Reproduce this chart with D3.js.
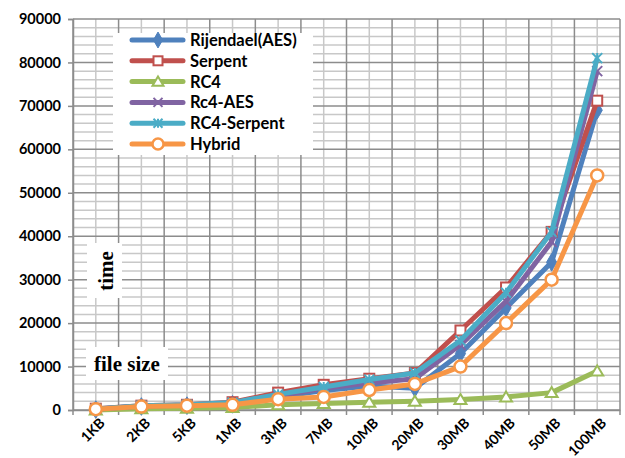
<!DOCTYPE html>
<html><head><meta charset="utf-8">
<script src="https://cdn.jsdelivr.net/npm/d3@7"></script>
<style>body{margin:0;background:#fff}svg{display:block}</style>
</head><body>
<svg id="c" width="625" height="458"></svg>
<script>
const categories = ["1KB","2KB","5KB","1MB","3MB","7MB","10MB","20MB","30MB","40MB","50MB","100MB"];
const aes        = [100, 800, 1000, 1300, 3000, 4500, 5500, 5000, 13000, 23500, 34000, 69000];
const serpent    = [300, 1000, 1200, 1800, 4000, 5800, 7200, 8500, 18300, 28200, 41000, 71200];
const rc4        = [0, 300, 400, 600, 1200, 1500, 1800, 2000, 2400, 3000, 4000, 9000];
const rc4aes     = [200, 900, 1100, 1500, 3200, 5000, 6200, 7200, 15000, 25000, 38700, 78000];
const rc4serpent = [250, 1000, 1200, 1700, 3600, 5300, 7000, 8500, 16000, 27000, 41000, 81000];
const hybrid     = [200, 800, 1000, 1200, 2500, 3000, 4600, 6000, 10000, 20000, 30000, 54000];
const seriesNames = ["Rijendael(AES)","Serpent","RC4","Rc4-AES","RC4-Serpent","Hybrid"];
const yTicks = [0,10000,20000,30000,40000,50000,60000,70000,80000,90000];

const series = [
  {name: seriesNames[0], values: aes, color: "#4F81BD", marker: "diamond"},
  {name: seriesNames[1], values: serpent, color: "#C0504D", marker: "square"},
  {name: seriesNames[2], values: rc4, color: "#9BBB59", marker: "triangle"},
  {name: seriesNames[3], values: rc4aes, color: "#8064A2", marker: "x"},
  {name: seriesNames[4], values: rc4serpent, color: "#4BACC6", marker: "star"},
  {name: seriesNames[5], values: hybrid, color: "#F79646", marker: "circle"}
];

const svg = d3.select("#c");
const L = 73, R = 620, T = 19, B = 410;
const x = d3.scaleBand().domain(categories).range([L, R]).padding(0);
const y = d3.scaleLinear().domain([0, 90000]).range([B, T]);
const font = "Lato, 'Open Sans', sans-serif";

// grid
const g = svg.append("g");
const minor = d3.range(0, 90001, 2000).filter(v => v % 10000 !== 0);
g.selectAll(".hm").data(minor).join("line")
  .attr("x1", L).attr("x2", R).attr("y1", d => y(d)).attr("y2", d => y(d))
  .attr("stroke", "#C8C8C8").attr("stroke-width", 1.5);
g.selectAll(".vm").data(categories).join("line")
  .attr("x1", d => x(d) + x.bandwidth()/2).attr("x2", d => x(d) + x.bandwidth()/2)
  .attr("y1", T).attr("y2", B).attr("stroke", "#C8C8C8").attr("stroke-width", 1.5);
g.selectAll(".hM").data(yTicks).join("line")
  .attr("x1", L).attr("x2", R).attr("y1", d => y(d)).attr("y2", d => y(d))
  .attr("stroke", "#8C8C8C").attr("stroke-width", 1.5);
const bounds = categories.map(c => x(c)).concat([R]);
g.selectAll(".vM").data(bounds).join("line")
  .attr("x1", d => d).attr("x2", d => d).attr("y1", T).attr("y2", B)
  .attr("stroke", "#8C8C8C").attr("stroke-width", 1.5);

// y axis
const yAxis = svg.append("g").attr("transform", `translate(${L},0)`)
  .call(d3.axisLeft(y).tickValues(yTicks).tickSize(5).tickPadding(7).tickFormat(d3.format("d")));
yAxis.select(".domain").attr("stroke", "#8C8C8C").attr("stroke-width", 1.5);
yAxis.selectAll(".tick line").attr("stroke", "#8C8C8C").attr("stroke-width", 1.5);
yAxis.selectAll("text").attr("font-family", font).attr("font-weight", "bold")
  .attr("font-size", 14.5).attr("fill", "#000");

// x axis
const xAxis = svg.append("g").attr("transform", `translate(0,${B})`)
  .call(d3.axisBottom(x).tickSize(0).tickFormat(d => d));
xAxis.select(".domain").attr("stroke", "#8C8C8C").attr("stroke-width", 1.5);
xAxis.selectAll(".tick text")
  .attr("font-family", font).attr("font-weight", "bold").attr("font-size", 14).attr("fill", "#000")
  .attr("text-anchor", "end").attr("dy", null).attr("y", 0)
  .attr("transform", "translate(10,14) rotate(-45)");
svg.append("g").selectAll("line").data(bounds).join("line")
  .attr("x1", d => d).attr("x2", d => d).attr("y1", B).attr("y2", B + 5)
  .attr("stroke", "#8C8C8C").attr("stroke-width", 1.5);

// markers
function drawMarker(sel, m, color, s) {
  if (m === "diamond") {
    sel.append("path").attr("d", d3.symbol(d3.symbolDiamond, s*s*0.9)()).attr("fill", color).attr("stroke", color);
  } else if (m === "square") {
    sel.append("rect").attr("x", -s/2).attr("y", -s/2).attr("width", s).attr("height", s)
      .attr("fill", "#fff").attr("stroke", color).attr("stroke-width", 2);
  } else if (m === "triangle") {
    const h = s*0.9;
    sel.append("path").attr("d", `M0,${-h/2-1}L${s/2+1},${h/2}L${-s/2-1},${h/2}Z`)
      .attr("fill", "#fff").attr("stroke", color).attr("stroke-width", 2);
  } else if (m === "x") {
    const r = s/2;
    sel.append("path").attr("d", `M${-r},${-r}L${r},${r}M${-r},${r}L${r},${-r}`)
      .attr("stroke", color).attr("stroke-width", 2);
  } else if (m === "star") {
    const r = s/2;
    sel.append("path").attr("d", `M${-r},${-r}L${r},${r}M${-r},${r}L${r},${-r}M0,${-r}L0,${r}`)
      .attr("stroke", color).attr("stroke-width", 2);
  } else if (m === "circle") {
    sel.append("circle").attr("r", s/2+1).attr("fill", "#fff").attr("stroke", color).attr("stroke-width", 2.5);
  }
}

const line = d3.line().x((d, i) => x(categories[i]) + x.bandwidth()/2).y(d => y(d));
series.forEach(s => {
  svg.append("path").datum(s.values).attr("d", line)
    .attr("fill", "none").attr("stroke", s.color).attr("stroke-width", 5).attr("stroke-linejoin", "round");
  s.values.forEach((v, i) => {
    const mg = svg.append("g").attr("transform", `translate(${x(categories[i]) + x.bandwidth()/2},${y(v)})`);
    drawMarker(mg, s.marker, s.color, 10);
  });
});

// legend
const lg = svg.append("g");
lg.append("rect").attr("x", 113).attr("y", 33).attr("width", 200).attr("height", 122).attr("fill", "#fff");
series.forEach((s, i) => {
  const yy = 40 + i * 20.8;
  lg.append("line").attr("x1", 132).attr("x2", 183).attr("y1", yy).attr("y2", yy)
    .attr("stroke", s.color).attr("stroke-width", 5).attr("stroke-linecap", "round");
  const mg = lg.append("g").attr("transform", `translate(158,${yy})`);
  drawMarker(mg, s.marker, s.color, 9);
  lg.append("text").attr("x", 190).attr("y", yy).attr("dy", "0.36em")
    .attr("font-family", font).attr("font-weight", "bold").attr("font-size", 16.5).attr("fill", "#000")
    .text(s.name);
});

// text boxes
svg.append("rect").attr("x", 87).attr("y", 243).attr("width", 35).attr("height", 55).attr("fill", "#fff");
svg.append("text").attr("transform", "translate(113,271) rotate(-90)").attr("text-anchor", "middle")
  .attr("font-family", "'Liberation Serif', serif").attr("font-weight", "bold").attr("font-size", 21).text("time");
svg.append("rect").attr("x", 86).attr("y", 347).attr("width", 82).attr("height", 33).attr("fill", "#fff");
svg.append("text").attr("x", 127).attr("y", 371).attr("text-anchor", "middle")
  .attr("font-family", "'Liberation Serif', serif").attr("font-weight", "bold").attr("font-size", 21).text("file size");
</script>
</body></html>
